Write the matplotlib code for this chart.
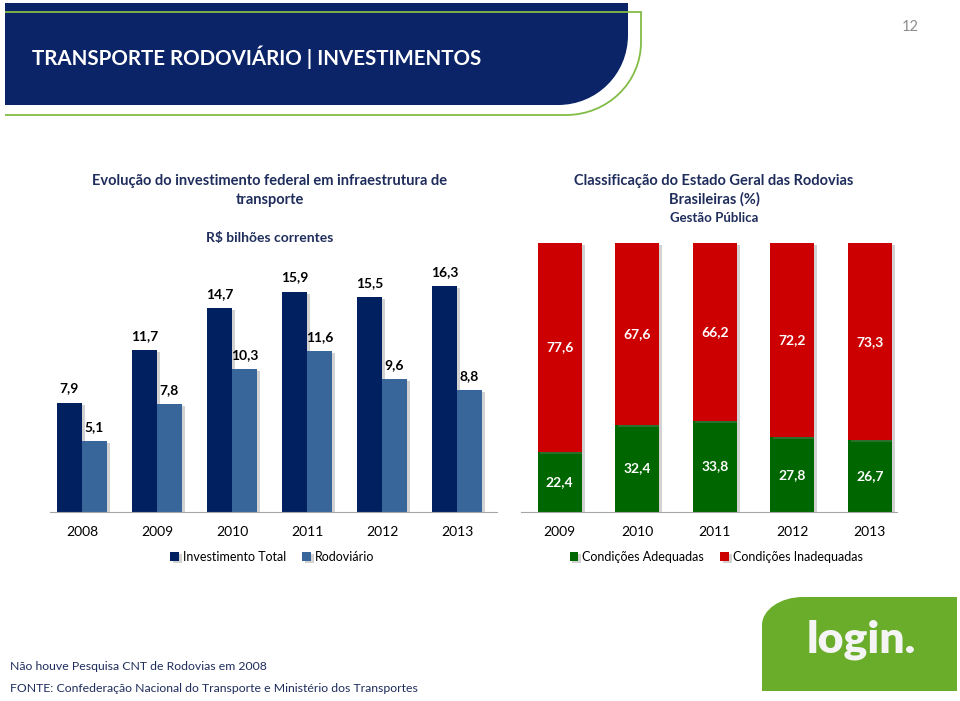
import matplotlib
matplotlib.use("Agg")
import matplotlib.pyplot as plt
import matplotlib.patheffects as pe
from matplotlib.path import Path
from matplotlib.patches import PathPatch
import numpy as np

plt.rcParams['font.family'] = ['Lato', 'DejaVu Sans']

# dados - investimento federal (R$ bilhoes correntes)
anos_inv = ['2008', '2009', '2010', '2011', '2012', '2013']
invest_total = [7.9, 11.7, 14.7, 15.9, 15.5, 16.3]
rodoviario = [5.1, 7.8, 10.3, 11.6, 9.6, 8.8]

# dados - estado geral das rodovias, gestao publica (%)
anos_rod = ['2009', '2010', '2011', '2012', '2013']
adequadas = [22.4, 32.4, 33.8, 27.8, 26.7]
inadequadas = [77.6, 67.6, 66.2, 72.2, 73.3]

W, H = 960, 701
NAVY = '#002060'
STEEL = '#38669a'
RED = '#cc0000'
GREEN = '#006600'
TXT = '#1f2d5c'

def box(x0, y0, x1, y1):
    return [x0 / W, 1 - y1 / H, (x1 - x0) / W, (y1 - y0) / H]

def fmt(v):
    return ('%.1f' % v).replace('.', ',')

shadow = [pe.SimplePatchShadow(offset=(2, -1.5), shadow_rgbFace='#808080', alpha=0.35), pe.Normal()]

fig = plt.figure(figsize=(W / 100, H / 100), dpi=100)

# fundo / banner
bg = fig.add_axes([0, 0, 1, 1], zorder=0)
bg.set_xlim(0, W)
bg.set_ylim(H, 0)
bg.axis('off')

banner = Path([(5, 3), (628, 3), (628, 35), (628, 74), (597, 105), (558, 105), (5, 105), (5, 3)],
              [Path.MOVETO, Path.LINETO, Path.LINETO, Path.CURVE4, Path.CURVE4, Path.CURVE4,
               Path.LINETO, Path.CLOSEPOLY])
bg.add_patch(PathPatch(banner, facecolor='#0b2467', edgecolor='none'))
linha = Path([(5, 12), (641, 12), (641, 42), (641, 83), (607, 115), (566, 115), (5, 115)],
             [Path.MOVETO, Path.LINETO, Path.LINETO, Path.CURVE4, Path.CURVE4, Path.CURVE4, Path.LINETO])
bg.add_patch(PathPatch(linha, facecolor='none', edgecolor='#82bc46', lw=1.3))
bg.text(32, 57, 'TRANSPORTE RODOVIÁRIO | INVESTIMENTOS', color='white', fontsize=14.8,
        fontweight='bold', va='center', ha='left')
bg.text(910, 27, '12', color='#8c8c8c', fontsize=10.5, ha='center', va='center')

logo = Path([(957, 597), (803, 597), (780, 597), (762, 610), (762, 625), (762, 691), (957, 691), (957, 597)],
            [Path.MOVETO, Path.LINETO, Path.CURVE4, Path.CURVE4, Path.CURVE4, Path.LINETO,
             Path.LINETO, Path.CLOSEPOLY])
bg.add_patch(PathPatch(logo, facecolor='#6aad2a', edgecolor='none'))
bg.text(861, 653, 'login.', color='#f4f4f4', fontsize=32, fontweight='heavy', ha='center', va='baseline')

# titulos
bg.text(270, 181, 'Evolução do investimento federal em infraestrutura de', color=TXT,
        fontsize=10.5, fontweight='bold', ha='center', va='center')
bg.text(270, 200, 'transporte', color=TXT, fontsize=10.5, fontweight='bold', ha='center', va='center')
bg.text(270, 238, 'R$ bilhões correntes', color=TXT, fontsize=10, fontweight='bold', ha='center', va='center')
bg.text(714, 181, 'Classificação do Estado Geral das Rodovias', color=TXT,
        fontsize=10.5, fontweight='bold', ha='center', va='center')
bg.text(714, 199, 'Brasileiras (%)', color=TXT, fontsize=10.5, fontweight='bold', ha='center', va='center')
bg.text(714, 218, 'Gestão Pública', color=TXT, fontsize=9.5, fontweight='bold', ha='center', va='center')

# notas
bg.text(10, 666, 'Não houve Pesquisa CNT de Rodovias em 2008', color=TXT, fontsize=8.8, va='center')
bg.text(10, 688, 'FONTE: Confederação Nacional do Transporte e Ministério dos Transportes', color=TXT,
        fontsize=8.8, va='center')

# grafico 1
ax1 = fig.add_axes(box(50, 240, 497, 512), zorder=2)
ax1.patch.set_alpha(0)
x = np.arange(len(anos_inv))
w = 1 / 3
b1 = ax1.bar(x - w / 2, invest_total, w, color=NAVY, label='Investimento Total')
b2 = ax1.bar(x + w / 2, rodoviario, w, color=STEEL, label='Rodoviário')
for b in list(b1) + list(b2):
    b.set_path_effects(shadow)
for xi, v in zip(x - w / 2, invest_total):
    ax1.annotate(fmt(v), (xi, v), xytext=(0, 6), textcoords='offset points', ha='center',
                 va='bottom', fontsize=10, fontweight='bold')
for xi, v in zip(x + w / 2, rodoviario):
    ax1.annotate(fmt(v), (xi, v), xytext=(0, 6), textcoords='offset points', ha='center',
                 va='bottom', fontsize=10, fontweight='bold')
ax1.set_xlim(-32 / 75, 415 / 75)
ax1.set_ylim(0, 272 / 13.85)
ax1.set_xticks(x)
ax1.set_xticklabels(anos_inv, fontsize=10)
ax1.tick_params(axis='x', length=0, pad=10)
ax1.set_yticks([])
for s in ['top', 'right', 'left']:
    ax1.spines[s].set_visible(False)
ax1.spines['bottom'].set_color('#a6a6a6')

# grafico 2
ax2 = fig.add_axes(box(521, 243, 897, 512), zorder=2)
ax2.patch.set_alpha(0)
x2 = np.arange(len(anos_rod))
g = ax2.bar(x2, adequadas, 0.57, color=GREEN, label='Condições Adequadas')
r = ax2.bar(x2, inadequadas, 0.57, bottom=adequadas, color=RED, label='Condições Inadequadas')
for b in list(g) + list(r):
    b.set_path_effects(shadow)
for xi, a, i in zip(x2, adequadas, inadequadas):
    ax2.text(xi, a / 2, fmt(a), color='white', fontsize=10, fontweight='bold', ha='center', va='center')
    ax2.text(xi, a + i / 2, fmt(i), color='white', fontsize=10, fontweight='bold', ha='center', va='center')
ax2.set_xlim(-0.5, 4.35)
ax2.set_ylim(0, 100)
ax2.set_xticks(x2)
ax2.set_xticklabels(anos_rod, fontsize=10)
ax2.tick_params(axis='x', length=0, pad=10)
ax2.set_yticks([])
for s in ['top', 'right', 'left']:
    ax2.spines[s].set_visible(False)
ax2.spines['bottom'].set_color('#a6a6a6')

leg_kw = dict(loc='center', ncol=2, frameon=False, fontsize=9, handlelength=0.7, handleheight=0.7,
              handletextpad=0.3, columnspacing=1.3, borderpad=0)
fig.legend(handles=[b1, b2], bbox_to_anchor=(272 / W, 1 - 557 / H), **leg_kw)
fig.legend(handles=[g, r], bbox_to_anchor=(716 / W, 1 - 557 / H), **leg_kw)

fig.savefig('out.png', dpi=100)
